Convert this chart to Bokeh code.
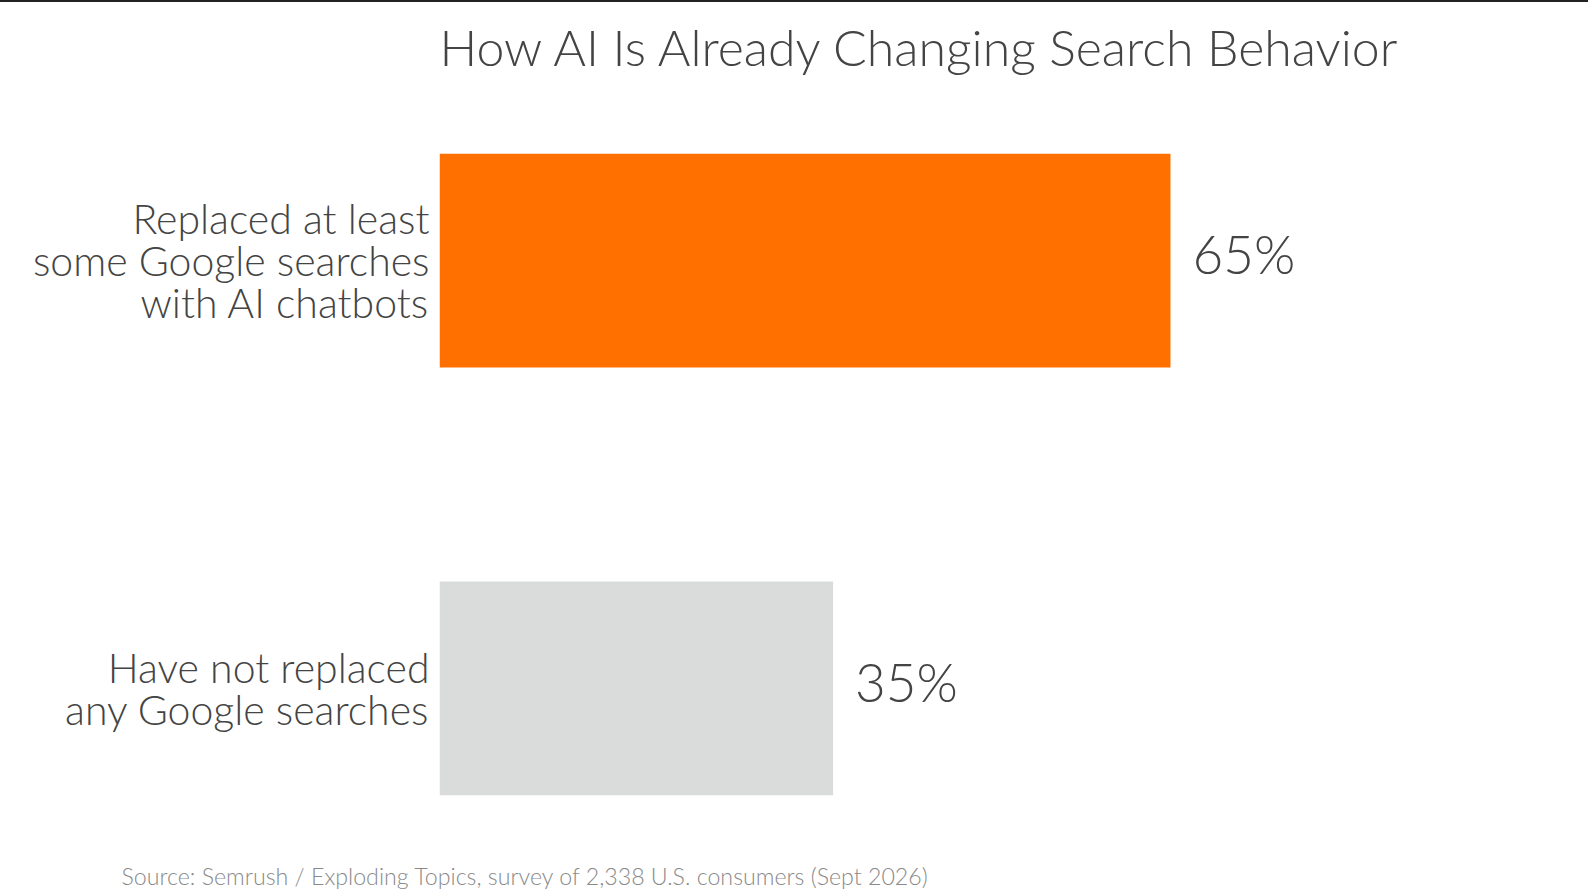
from bokeh.plotting import figure
from bokeh.models import ColumnDataSource, FactorRange, Range1d, LabelSet, Title
from bokeh.core.properties import value
from bokeh.embed import file_html
from bokeh.resources import INLINE

# data
categories = ["Have not replaced\nany Google searches",
              "Replaced at least\nsome Google searches\nwith AI chatbots"]
shares = [0.35, 0.65]
bar_colors = ["#dadbdb", "#ff7000"]
share_labels = ["35%", "65%"]

FONT = "Lato Light, Lato"
TEXT = "#444444"

source = ColumnDataSource(data=dict(cat=categories, share=shares,
                                    color=bar_colors, label=share_labels))

# thin dark rule along the very top, as in the reference
p = figure(width=1588, height=891, output_backend="svg", toolbar_location=None,
           y_range=FactorRange(*categories, range_padding=-0.1),
           x_range=Range1d(0, 1.0217),
           min_border_left=439, min_border_right=0,
           min_border_top=87, min_border_bottom=34,
           styles={"border-top": "2px solid #222222"})

p.hbar(y="cat", right="share", left=0, height=0.5, color="color",
       line_color=None, source=source)

p.add_layout(LabelSet(x="share", y="cat", text="label", source=source,
                      x_offset=22, y_offset=7, text_baseline="middle",
                      text_font=value(FONT), text_font_size="53px", text_color=TEXT))

# title and source note
p.add_layout(Title(text="How AI Is Already Changing Search Behavior", align="left",
                   text_font=FONT, text_font_size="50px", text_color=TEXT,
                   text_font_style="normal", standoff=25), "above")
p.add_layout(Title(text="Source: Semrush / Exploding Topics, survey of 2,338 U.S. consumers (Sept 2026)",
                   align="left", offset=-318, standoff=0,
                   text_font=FONT, text_font_size="23.2px", text_color="#8a8a8a",
                   text_font_style="normal"), "below")

p.xaxis.visible = False
p.yaxis.axis_line_color = None
p.yaxis.major_tick_line_color = None
p.yaxis.minor_tick_line_color = None
p.yaxis.major_label_standoff = 4
p.yaxis.major_label_text_font = FONT
p.yaxis.major_label_text_font_size = "41px"
p.yaxis.major_label_text_color = TEXT
p.yaxis.major_label_text_line_height = 0.86

p.xgrid.grid_line_color = None
p.ygrid.grid_line_color = None
p.outline_line_color = None
p.background_fill_color = "white"
p.border_fill_color = "white"

open("out.html", "w").write(file_html(p, INLINE))
